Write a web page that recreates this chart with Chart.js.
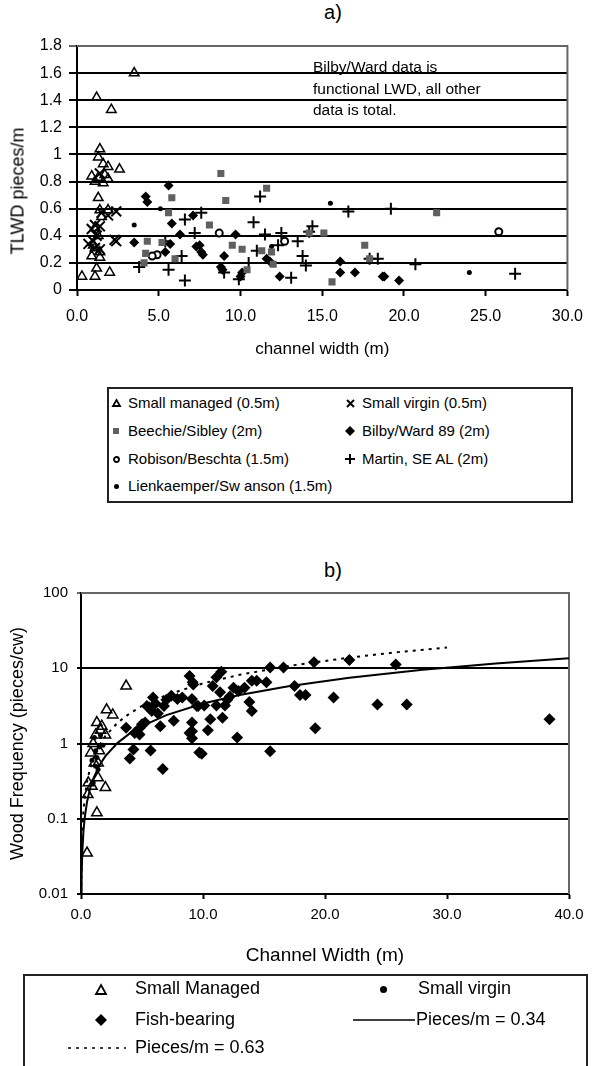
<!DOCTYPE html>
<html><head><meta charset="utf-8">
<script src="https://cdn.jsdelivr.net/npm/chart.js@4.4.0/dist/chart.umd.min.js"></script>
<style>
body{margin:0;background:#fff;font-family:"Liberation Sans",Arial,sans-serif;color:#000}
#wrap{position:relative;width:594px;height:1066px;overflow:hidden;background:#fff}
canvas{position:absolute;left:0}
.t{position:absolute;white-space:nowrap}
.lg{position:absolute;border:2px solid #222;box-sizing:border-box}
svg.m{position:absolute;overflow:visible}
</style></head>
<body><div id="wrap">
<div class="t" style="left:0;width:666px;text-align:center;top:0;line-height:24px;font-size:20px">a)</div>
<canvas id="c1" width="594" height="372" style="top:0"></canvas>
<div class="t" style="left:18px;top:191px;font-size:18px;transform:translate(-50%,-50%) rotate(-90deg)">TLWD pieces/m</div>
<div class="t" style="left:313px;top:56px;font-size:15.5px;line-height:21.5px">Bilby/Ward data is<br>functional LWD, all other<br>data is total.</div>
<div class="lg" style="left:107px;top:387px;width:466px;height:116px"></div>
<div class="t" style="left:0;width:666px;text-align:center;top:558px;line-height:24px;font-size:20px">b)</div>
<canvas id="c2" width="594" height="420" style="top:555px"></canvas>
<div class="lg" style="left:23px;top:974px;width:565px;height:110px"></div>
</div>
<script>
// ---------- DATA: chart a) (TLWD pieces/m vs channel width) ----------
const xTicksA = [0, 5, 10, 15, 20, 25, 30];
const xTickLabelsA = ['0.0', '5.0', '10.0', '15.0', '20.0', '25.0', '30.0'];
const yTicksA = [0, 0.2, 0.4, 0.6, 0.8, 1, 1.2, 1.4, 1.6, 1.8];
const yTickLabelsA = ['0', '0.2', '0.4', '0.6', '0.8', '1', '1.2', '1.4', '1.6', '1.8'];

const smallManagedA = [[3.5,1.6],[1.2,1.42],[2.1,1.33],[1.4,1.04],[1.3,0.98],[1.6,0.93],[1.9,0.91],[2.6,0.89],[0.9,0.84],[1.3,0.83],[1.7,0.85],[1.1,0.80],[1.6,0.79],[1.9,0.82],[1.3,0.68],[1.4,0.59],[1.9,0.59],[1.5,0.54],[1.1,0.46],[1.3,0.40],[1.0,0.33],[1.1,0.31],[1.4,0.28],[0.9,0.25],[1.4,0.24],[1.2,0.16],[0.3,0.10],[1.1,0.10],[2.0,0.13]];
const smallVirginA = [[1.4,0.86],[1.5,0.57],[2.4,0.58],[1.9,0.55],[1.1,0.48],[0.9,0.45],[1.4,0.47],[1.2,0.40],[0.7,0.34],[1.1,0.31],[1.4,0.30],[2.3,0.37],[2.4,0.36],[1.0,0.36]];
const beechieA = [[4.3,0.36],[4.2,0.27],[5.8,0.68],[5.6,0.57],[5.2,0.35],[4.1,0.20],[8.8,0.86],[11.6,0.75],[9.1,0.66],[8.1,0.48],[9.5,0.33],[10.1,0.30],[11.3,0.29],[11.9,0.28],[12.0,0.19],[10.4,0.15],[15.1,0.42],[15.6,0.06],[17.6,0.33],[17.9,0.23],[22.0,0.57],[14.2,0.42],[6.0,0.23]];
const bilbyA = [[4.2,0.69],[4.3,0.65],[5.6,0.77],[3.5,0.35],[5.8,0.49],[6.3,0.41],[5.7,0.34],[5.4,0.28],[7.1,0.55],[7.3,0.32],[9.7,0.41],[7.5,0.33],[7.6,0.28],[7.7,0.26],[9.0,0.25],[8.8,0.17],[8.9,0.15],[10.1,0.13],[10.0,0.10],[11.6,0.23],[11.8,0.21],[12.4,0.10],[16.1,0.21],[16.1,0.13],[17.0,0.13],[18.7,0.10],[18.8,0.10],[19.7,0.07]];
const robisonA = [[4.9,0.26],[4.6,0.25],[8.7,0.42],[12.7,0.36],[25.8,0.43]];
const lienkaemperA = [[3.5,0.48],[5.1,0.60],[11.9,0.32],[15.5,0.64],[24.0,0.13]];
const martinA = [[3.8,0.17],[5.4,0.36],[5.6,0.15],[6.6,0.52],[6.4,0.25],[6.6,0.07],[7.2,0.42],[7.6,0.57],[11.2,0.69],[10.8,0.50],[11.5,0.41],[12.5,0.42],[12.3,0.33],[13.5,0.36],[11.0,0.29],[10.5,0.20],[9.0,0.13],[9.9,0.08],[13.1,0.09],[13.8,0.25],[14.0,0.18],[14.4,0.47],[14.2,0.43],[16.6,0.58],[17.9,0.23],[18.4,0.23],[19.2,0.60],[20.7,0.19],[26.8,0.12]];

// ---------- DATA: chart b) (wood frequency vs channel width) ----------
const xTicksB = [0, 10, 20, 30, 40];
const xTickLabelsB = ['0.0', '10.0', '20.0', '30.0', '40.0'];
const yTicksB = [0.01, 0.1, 1, 10, 100];
const yTickLabelsB = ['0.01', '0.1', '1', '10', '100'];

const smallManagedB = [[0.5,0.035],[1.3,0.12],[0.55,0.21],[0.9,0.27],[1.4,0.35],[2.0,0.26],[0.8,0.75],[1.5,0.8],[1.2,1.3],[2.0,1.3],[1.3,1.9],[1.6,1.5],[2.1,2.8],[2.6,2.4],[3.7,5.8],[1.0,1.0],[1.7,1.7],[1.4,0.55],[1.1,0.55],[0.6,0.3]];
const smallVirginB = [[1.0,0.3],[1.2,0.5],[1.3,0.65],[1.5,0.9],[1.1,1.2],[1.6,1.3],[0.9,0.6],[1.8,0.95],[1.4,0.45],[1.2,0.8]];
const fishBearingB = [[3.7,1.62],[4.0,0.63],[4.3,0.83],[4.4,1.38],[4.8,1.6],[4.8,1.32],[5.25,1.9],[5.4,3.16],[5.9,4.1],[5.8,2.7],[6.1,3.4],[6.5,1.7],[6.7,0.46],[5.7,0.81],[6.8,3.16],[7.4,4.3],[7.6,2.0],[8.3,4.1],[8.9,7.9],[9.15,6.5],[9.1,1.9],[8.9,1.38],[9.1,1.17],[9.7,0.76],[9.6,3.16],[9.2,6.1],[9.1,3.9],[9.1,1.45],[9.9,0.73],[11.1,7.6],[11.5,9.0],[10.8,5.8],[11.4,4.8],[12.5,5.5],[12.9,5.0],[13.4,5.5],[14.0,6.8],[14.4,6.8],[15.2,6.5],[15.5,10.2],[16.6,10.2],[19.1,12],[22.0,12.9],[17.5,5.8],[17.95,4.4],[18.4,4.4],[20.7,4.1],[24.3,3.3],[19.2,1.6],[15.5,0.79],[12.8,1.2],[11.6,2.2],[10.6,2.1],[10.4,1.5],[13.8,3.55],[14.0,2.7],[9.5,3.16],[10.1,3.2],[11.1,3.2],[11.8,3.2],[12.0,3.8],[12.2,4.2],[25.8,11.2],[26.7,3.3],[38.4,2.1],[7.0,3.8],[7.9,3.9],[5.0,1.8],[6.3,2.5]];
const pieces034X = [0.03,0.05,0.1,0.2,0.3,0.5,0.75,1,1.5,2,3,4,5,7,10,13,17,22,28,34,40];
const pieces034Y = [0.0102,0.017,0.034,0.068,0.102,0.17,0.255,0.34,0.51,0.68,1.02,1.36,1.7,2.38,3.4,4.42,5.78,7.48,9.52,11.56,13.6];
const pieces063X = [0.02,0.05,0.1,0.2,0.3,0.5,0.75,1,1.5,2,3,4,5,7,10,13,17,22,26,30];
const pieces063Y = [0.0126,0.0315,0.063,0.126,0.189,0.315,0.4725,0.63,0.945,1.26,1.89,2.52,3.15,4.41,6.3,8.19,10.71,13.86,16.38,18.9];

// ---------- RENDER ----------
Chart.defaults.font.family = '"Liberation Sans", Arial, sans-serif';
Chart.defaults.color = '#000';
Chart.defaults.animation = false;

const pts = a => a.map(p => ({x: p[0], y: p[1]}));
const zip = (xs, ys) => xs.map((x, i) => ({x, y: ys[i]}));

const frame = {
  id: 'frame',
  beforeDatasetsDraw(chart) {
    const {ctx, chartArea: a} = chart;
    ctx.save();
    ctx.strokeStyle = '#666';
    ctx.lineWidth = 2;
    ctx.beginPath();
    ctx.moveTo(a.left, a.top);
    ctx.lineTo(a.right, a.top);
    ctx.lineTo(a.right, a.bottom);
    ctx.stroke();
    ctx.restore();
  }
};

function sc(label, data, style, r, fill, stroke, bw) {
  return {label, data: pts(data), pointStyle: style, pointRadius: r, pointHoverRadius: r,
    pointBackgroundColor: fill, pointBorderColor: stroke, pointBorderWidth: bw, showLine: false};
}

new Chart(document.getElementById('c1'), {
  type: 'scatter',
  data: {datasets: [
    sc('Small managed (0.5m)', smallManagedA, 'triangle', 5.5, 'rgba(0,0,0,0)', '#000', 1.5),
    sc('Small virgin (0.5m)', smallVirginA, 'crossRot', 7, '#000', '#000', 2),
    sc('Beechie/Sibley (2m)', beechieA, 'rect', 5, '#606060', '#606060', 0),
    sc('Bilby/Ward 89 (2m)', bilbyA, 'rectRot', 5, '#000', '#000', 0),
    sc('Robison/Beschta (1.5m)', robisonA, 'circle', 3.5, '#fff', '#000', 2),
    sc('Martin, SE AL (2m)', martinA, 'cross', 6, '#000', '#000', 2),
    sc('Lienkaemper/Sw anson (1.5m)', lienkaemperA, 'circle', 2.5, '#000', '#000', 0)
  ]},
  options: {
    responsive: false, animation: false, events: [],
    layout: {padding: {top: 46, right: 18, left: 0, bottom: 0}},
    plugins: {legend: {display: false}, tooltip: {enabled: false}},
    scales: {
      x: {type: 'linear', min: 0, max: 30,
        afterFit: s => { s.height = 82; },
        afterBuildTicks: s => { s.ticks = xTicksA.map(v => ({value: v})); },
        ticks: {callback: (v, i) => xTickLabelsA[i], font: {size: 16}, padding: 11, maxRotation: 0, autoSkip: false},
        grid: {drawOnChartArea: false, drawTicks: true, tickLength: 6, tickWidth: 2, tickColor: '#000'},
        border: {color: '#000', width: 2},
        title: {display: true, text: 'channel width (m)', font: {size: 17}, padding: {top: 0, bottom: 12}}
      },
      y: {type: 'linear', min: 0, max: 1.8,
        afterFit: s => { s.width = 77; },
        afterBuildTicks: s => { s.ticks = yTicksA.map(v => ({value: v})); },
        ticks: {callback: (v, i) => yTickLabelsA[i], font: {size: 16}, padding: 7, autoSkip: false},
        grid: {color: c => (c.tick && c.tick.value === 1.8) ? '#666' : '#000', lineWidth: 2, tickLength: 8},
        border: {color: '#000', width: 2}
      }
    }
  },
  plugins: [frame]
});

new Chart(document.getElementById('c2'), {
  type: 'scatter',
  data: {datasets: [
    sc('Small Managed', smallManagedB, 'triangle', 6, 'rgba(0,0,0,0)', '#000', 1.5),
    sc('Small virgin', smallVirginB, 'circle', 2.5, '#000', '#000', 0),
    sc('Fish-bearing', fishBearingB, 'rectRot', 6, '#000', '#000', 0),
    {type: 'line', label: 'Pieces/m = 0.34', data: zip(pieces034X, pieces034Y), borderColor: '#000', borderWidth: 2, pointRadius: 0, showLine: true, fill: false, tension: 0},
    {type: 'line', label: 'Pieces/m = 0.63', data: zip(pieces063X, pieces063Y), borderColor: '#000', borderWidth: 2, borderDash: [3, 5], pointRadius: 0, showLine: true, fill: false, tension: 0}
  ]},
  options: {
    responsive: false, animation: false, events: [],
    layout: {padding: {top: 38, right: 25, left: 0, bottom: 0}},
    plugins: {legend: {display: false}, tooltip: {enabled: false}},
    scales: {
      x: {type: 'linear', min: 0, max: 40,
        afterFit: s => { s.height = 81; },
        afterBuildTicks: s => { s.ticks = xTicksB.map(v => ({value: v})); },
        ticks: {callback: (v, i) => xTickLabelsB[i], font: {size: 15}, padding: 7, maxRotation: 0, autoSkip: false},
        grid: {drawOnChartArea: false, drawTicks: true, tickLength: 5, tickWidth: 2, tickColor: '#000'},
        border: {color: '#000', width: 2},
        title: {display: true, text: 'Channel Width (m)', font: {size: 19}, padding: {top: 0, bottom: 8}}
      },
      y: {type: 'logarithmic', min: 0.01, max: 100,
        afterFit: s => { s.width = 81; },
        afterBuildTicks: s => { s.ticks = yTicksB.map(v => ({value: v})); },
        ticks: {callback: (v, i) => yTickLabelsB[i], font: {size: 15}, padding: 9, autoSkip: false},
        grid: {color: c => (c.tick && c.tick.value === 100) ? '#666' : '#000', lineWidth: 2, tickLength: 4},
        border: {color: '#000', width: 2},
        title: {display: true, text: 'Wood Frequency (pieces/cw)', font: {size: 18}, padding: {top: 7, bottom: 0}}
      }
    }
  },
  plugins: [frame]
});

// ---------- LEGENDS (HTML, real text) ----------
const wrap = document.getElementById('wrap');
function mk(inner, cx, cy, w, h) {
  const d = document.createElement('div');
  d.innerHTML = '<svg class="m" xmlns="http://www.w3.org/2000/svg" width="' + w + '" height="' + h + '" viewBox="0 0 ' + w + ' ' + h + '">' + inner + '</svg>';
  const s = d.firstChild;
  s.style.left = (cx - w / 2) + 'px';
  s.style.top = (cy - h / 2) + 'px';
  wrap.appendChild(s);
}
function txt(t, x, cy, size) {
  const d = document.createElement('div');
  d.className = 't';
  d.textContent = t;
  const lh = size * 1.2;
  d.style.cssText = 'left:' + x + 'px;top:' + (cy - lh / 2) + 'px;font-size:' + size + 'px;line-height:' + lh + 'px';
  wrap.appendChild(d);
}
const M = {
  tri: (w, h) => '<polygon points="' + (w / 2) + ',1 ' + (w - 1) + ',' + (h - 1) + ' 1,' + (h - 1) + '" fill="none" stroke="#000" stroke-width="1.8"/>',
  x: (w, h) => '<path d="M1,1L' + (w - 1) + ',' + (h - 1) + 'M' + (w - 1) + ',1L1,' + (h - 1) + '" stroke="#000" stroke-width="2"/>',
  sq: (w, h) => '<rect x="0" y="0" width="' + w + '" height="' + h + '" fill="#606060"/>',
  dia: (w, h) => '<polygon points="' + (w / 2) + ',0 ' + w + ',' + (h / 2) + ' ' + (w / 2) + ',' + h + ' 0,' + (h / 2) + '" fill="#000"/>',
  oc: (w, h) => '<circle cx="' + (w / 2) + '" cy="' + (h / 2) + '" r="' + (w / 2 - 1) + '" fill="#fff" stroke="#000" stroke-width="1.8"/>',
  plus: (w, h) => '<path d="M' + (w / 2) + ',0V' + h + 'M0,' + (h / 2) + 'H' + w + '" stroke="#000" stroke-width="2"/>',
  dot: (w, h) => '<circle cx="' + (w / 2) + '" cy="' + (h / 2) + '" r="' + (w / 2) + '" fill="#000"/>',
  line: (w, h) => '<path d="M0,' + (h / 2) + 'H' + w + '" stroke="#000" stroke-width="1.6"/>',
  dash: (w, h) => '<path d="M0,' + (h / 2) + 'H' + w + '" stroke="#000" stroke-width="1.6" stroke-dasharray="3,5"/>'
};
// top legend
const LA = [
  ['tri', 9, 8, 116, 403, 'Small managed (0.5m)', 128],
  ['x', 9, 9, 350, 403, 'Small virgin (0.5m)', 362],
  ['sq', 6, 6, 116, 431, 'Beechie/Sibley (2m)', 128],
  ['dia', 10, 10, 350, 431, 'Bilby/Ward 89 (2m)', 362],
  ['oc', 7, 7, 116, 459, 'Robison/Beschta (1.5m)', 128],
  ['plus', 10, 10, 350, 459, 'Martin, SE AL (2m)', 362],
  ['dot', 5, 5, 116, 486, 'Lienkaemper/Sw anson (1.5m)', 128]
];
LA.forEach(e => { mk(M[e[0]](e[1], e[2]), e[3], e[4], e[1], e[2]); txt(e[5], e[6], e[4], 15); });
// bottom legend
const LB = [
  ['tri', 12, 11, 101, 989, 'Small Managed', 135],
  ['dot', 7, 7, 383, 989, 'Small virgin', 418],
  ['dia', 12, 12, 101, 1020, 'Fish-bearing', 135],
  ['line', 62, 4, 384, 1020, 'Pieces/m = 0.34', 416],
  ['dash', 58, 4, 97, 1048, 'Pieces/m = 0.63', 135]
];
LB.forEach(e => { mk(M[e[0]](e[1], e[2]), e[3], e[4], e[1], e[2]); txt(e[5], e[6], e[4], 18); });
</script>
</body></html>
